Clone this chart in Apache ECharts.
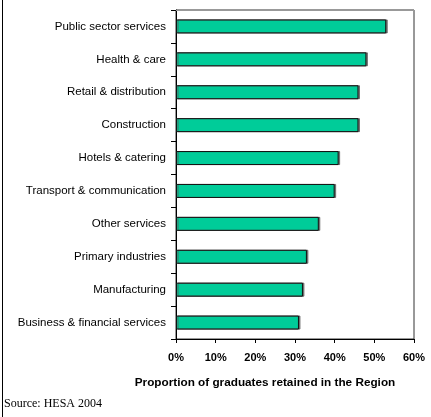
<!DOCTYPE html>
<html>
<head>
<meta charset="utf-8">
<script src="https://cdn.jsdelivr.net/npm/echarts@6/dist/echarts.min.js"></script>
<style>
  html, body { margin: 0; padding: 0; background: #fff; }
  #chart { width: 431px; height: 417px; }
</style>
</head>
<body>
<div id="chart"></div>
<script>
// Sectors, listed top to bottom
const sectors = [
  'Public sector services',
  'Health & care',
  'Retail & distribution',
  'Construction',
  'Hotels & catering',
  'Transport & communication',
  'Other services',
  'Primary industries',
  'Manufacturing',
  'Business & financial services'
];
// Share of graduates retained in the region (%)
const retained = [53, 48, 46, 46, 41, 40, 36, 33, 32, 31];
// Horizontal axis ticks (%)
const pctTicks = [0, 10, 20, 30, 40, 50, 60];

const chart = echarts.init(document.getElementById('chart'), null, { renderer: 'canvas' });

const font = 'Arial, "Liberation Sans", sans-serif';

chart.setOption({
  animation: false,
  backgroundColor: '#ffffff',
  grid: {
    left: 176, right: 17, top: 10, bottom: 78, containLabel: false,
    show: true, borderColor: '#333', borderWidth: 1, backgroundColor: 'transparent'
  },
  xAxis: [{
    type: 'value',
    min: pctTicks[0],
    max: pctTicks[pctTicks.length - 1],
    interval: 10,
    axisLine: { show: true, lineStyle: { color: '#000', width: 1 } },
    axisTick: { show: true, inside: false, length: 4, lineStyle: { color: '#000' } },
    splitLine: { show: false },
    axisLabel: {
      margin: 13,
      formatter: v => v + '%',
      color: '#000',
      fontFamily: font,
      fontWeight: 'bold',
      fontSize: 11
    }
  }, {
    type: 'value',
    position: 'top',
    min: 0, max: 60,
    axisLine: { show: true, lineStyle: { color: '#999', width: 1 } },
    axisTick: { show: false },
    axisLabel: { show: false },
    splitLine: { show: false }
  }],
  yAxis: {
    type: 'category',
    data: sectors,
    inverse: true,
    axisLine: { show: true, lineStyle: { color: '#000', width: 1 } },
    axisTick: { show: true, inside: false, length: 5, lineStyle: { color: '#000' } },
    axisLabel: {
      margin: 10,
      color: '#000',
      fontFamily: font,
      fontSize: 11.5
    }
  },
  series: [{
    type: 'bar',
    data: retained,
    barWidth: 14,
    itemStyle: {
      color: '#00cc99',
      borderColor: '#111',
      borderWidth: 1,
      shadowColor: 'rgba(90,90,90,0.8)',
      shadowOffsetX: 1.5,
      shadowOffsetY: 0,
      shadowBlur: 0
    }
  }],
  graphic: [
    {
      type: 'line',
      shape: { x1: 2.5, y1: 0, x2: 2.5, y2: 417 },
      style: { stroke: '#000', lineWidth: 1 }
    },
    {
      type: 'text',
      x: 265,
      y: 377,
      style: {
        text: 'Proportion of graduates retained in the Region',
        fill: '#000',
        align: 'center',
        font: 'bold 11.75px Arial, "Liberation Sans", sans-serif'
      }
    },
    {
      type: 'text',
      left: 4,
      top: 398,
      style: {
        text: 'Source: HESA 2004',
        fill: '#000',
        font: '12px "Times New Roman", "Liberation Serif", serif'
      }
    }
  ]
});
</script>
</body>
</html>
